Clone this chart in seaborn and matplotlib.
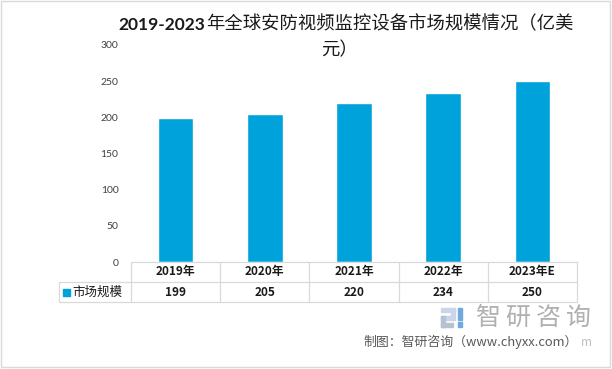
import matplotlib
matplotlib.use("Agg")
import matplotlib.pyplot as plt
import matplotlib.transforms as mtransforms
from matplotlib.lines import Line2D
from matplotlib.patches import Rectangle
import seaborn as sns
import pandas as pd

years = ["2019年", "2020年", "2021年", "2022年", "2023年E"]
values = [199, 205, 220, 234, 250]
series_name = "市场规模"
yticks = [0, 50, 100, 150, 200, 250, 300]
title_a = "2019-2023"
title_b = "年全球安防视频监控设备市场规模情况（亿美"
title_c = "元）"

W, H = 612, 369
BAR = "#00A2DB"
sns.set_theme(style="white")
plt.rcParams['font.family'] = ['Noto Sans CJK SC', 'DejaVu Sans']

fig = plt.figure(figsize=(W / 100, H / 100), dpi=100)

def fx(px):
    return px / W

def fy(py):
    return 1 - py / H

L, R, T, B = 131, 577, 45, 262
ax = fig.add_axes([fx(L), fy(B), fx(R - L), (B - T) / H])
df = pd.DataFrame({"year": years, "value": values})
sns.barplot(data=df, x="year", y="value", color=BAR, saturation=1, width=0.4, ax=ax)
ax.set_xlim(-0.5, len(years) - 0.5)
ax.set_ylim(0, 300)
ax.set_yticks(yticks)
ax.set_yticklabels([str(v) for v in yticks], fontsize=7.5, color="#404040", family="Lato")
ax.tick_params(axis="y", length=0, pad=9)
ax.set_xticks([])
ax.set_xlabel("")
ax.set_ylabel("")
for s in ax.spines.values():
    s.set_visible(False)

# table
gc = "#d9d9d9"
def hline(y, x0, x1):
    fig.add_artist(Line2D([fx(x0), fx(x1)], [fy(y), fy(y)], color=gc, lw=0.9, transform=fig.transFigure))

def vline(x, y0, y1):
    fig.add_artist(Line2D([fx(x), fx(x)], [fy(y0), fy(y1)], color=gc, lw=0.9, transform=fig.transFigure))

r0, r1, r2 = 262, 282, 302
hline(r0, L, R)
hline(r1, 59, R)
hline(r2, 59, R)
colw = (R - L) / len(years)
for i in range(len(years) + 1):
    vline(L + i * colw, r0, r2)
vline(59, r1, r2)

blend = mtransforms.blended_transform_factory(ax.transData, fig.transFigure)
for i, (yr, v) in enumerate(zip(years, values)):
    fig.text(i, fy((r0 + r1) / 2), yr, transform=blend, ha="center", va="center",
             fontsize=8.5, fontweight="bold", color="#1a1a1a")
    fig.text(i, fy((r1 + r2) / 2), str(v), transform=blend, ha="center", va="center",
             fontsize=8.5, fontweight="bold", color="#1a1a1a")

fig.add_artist(Rectangle((fx(63), fy(296)), fx(7), 7 / H, color=BAR, transform=fig.transFigure))
fig.text(fx(72), fy((r1 + r2) / 2), series_name, ha="left", va="center", fontsize=9, color="#1a1a1a")

# title
t1 = fig.text(fx(118), fy(25), title_a, ha="left", va="center", fontsize=12.5,
              fontweight="bold", color="#1a1a1a", family="Lato")
fig.canvas.draw()
ext = t1.get_window_extent()
fig.text(ext.x1 / W + 0.002, fy(24), title_b, ha="left", va="center", fontsize=13.2, color="#1a1a1a")
fig.text(fx(340), fy(50), title_c, ha="center", va="center", fontsize=13.2, color="#1a1a1a")

# watermark logo
lc1, lc2 = "#c9d6ea", "#b7c2d0"
for (x, y, w, h, c) in [(441, 308, 14, 4, lc1), (451, 308, 4, 12, lc1), (441, 316, 12, 4, lc1),
                        (441, 316, 4, 11, lc2), (441, 323, 12, 4, lc2),
                        (458, 308, 4, 12, "#6fa8dc"), (458, 322, 4, 5, "#6fa8dc")]:
    fig.add_artist(Rectangle((fx(x), fy(y + h)), fx(w), h / H, color=c, transform=fig.transFigure))
for i, ch in enumerate("智研咨询"):
    fig.text(fx(488 + i * 30), fy(318), ch, ha="center", va="center", fontsize=18, color="#b0b0b0")

fig.text(fx(578), fy(342), "制图：智研咨询（www.chyxx.com）", ha="right", va="center",
         fontsize=9.3, color="#595959")
fig.text(fx(586), fy(342), "m", ha="center", va="center", fontsize=8.5, color="#bfbfbf")

# outer border
fig.add_artist(Rectangle((fx(1), fy(367)), fx(609), 366 / H, fill=False, ec="#d9d9d9", lw=1,
                         transform=fig.transFigure))

fig.savefig("out.png", dpi=100)
